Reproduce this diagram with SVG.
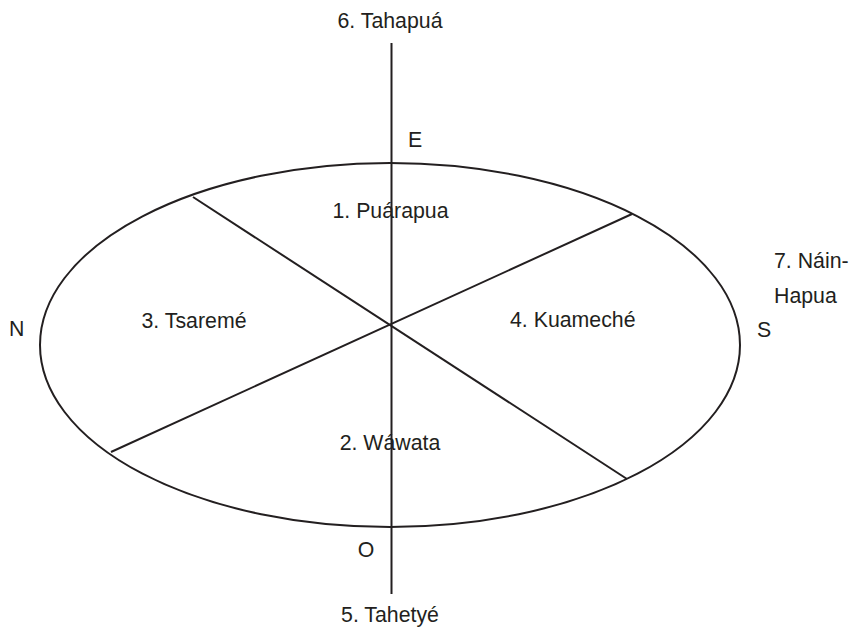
<svg xmlns="http://www.w3.org/2000/svg" width="851" height="627" viewBox="0 0 851 627">
<style>
.ln{fill:none;stroke:#231f20;stroke-width:2}
text{font-family:"Liberation Sans",Arial,sans-serif;font-size:21.3px;fill:#231f20}
.c{text-anchor:middle}
</style>
<rect width="851" height="627" fill="#fff"/>
<g id="connectors">
<line class="ln" x1="391.5" y1="43" x2="391.5" y2="594"/>
<line class="ln" x1="193" y1="197" x2="627" y2="479"/>
<line class="ln" x1="632" y1="214" x2="111" y2="452"/>
</g>
<g id="ellipse"><ellipse class="ln" cx="390" cy="345" rx="350" ry="182"/></g>
<g id="n6"><text class="c" x="390" y="28">6. Tahapuá</text></g>
<g id="nE"><text x="408" y="147">E</text></g>
<g id="n1"><text class="c" x="390.5" y="218">1. Puárapua</text></g>
<g id="n3"><text class="c" x="194" y="328">3. Tsaremé</text></g>
<g id="n4"><text x="510" y="327">4. Kuameché</text></g>
<g id="nN"><text x="9" y="336">N</text></g>
<g id="nS"><text x="757" y="337">S</text></g>
<g id="n7"><text x="774" y="268">7. Náin-</text><text x="774" y="303">Hapua</text></g>
<g id="n2"><text class="c" x="390" y="450">2. Wáwata</text></g>
<g id="nO"><text class="c" x="366" y="557">O</text></g>
<g id="n5"><text class="c" x="390" y="622">5. Tahetyé</text></g>
</svg>
